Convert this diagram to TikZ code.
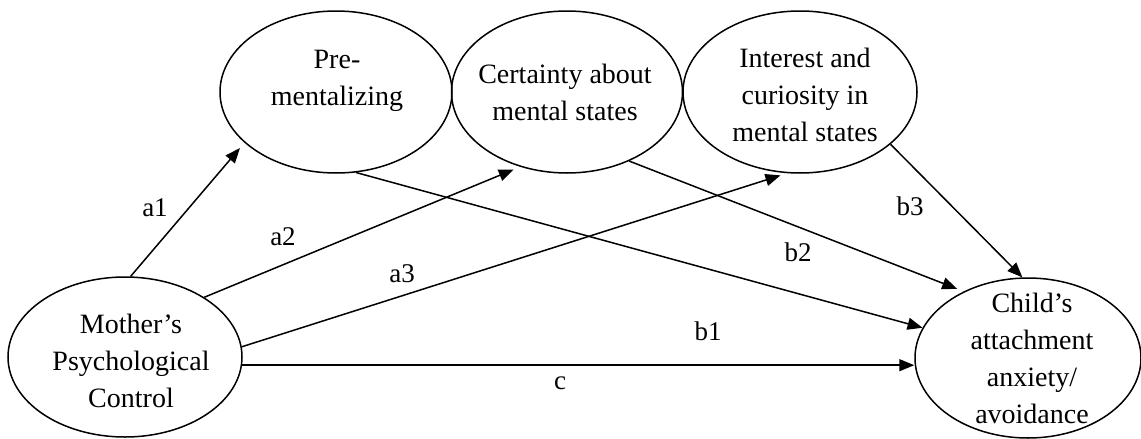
\documentclass[tikz,border=0pt]{standalone}
\usepackage{fontspec}
\setmainfont{Liberation Serif}
\usetikzlibrary{shapes.geometric,arrows.meta}
\begin{document}
\begin{tikzpicture}[x=1pt,y=-1pt,
  construct/.style={draw, ellipse, line width=1.5pt, inner sep=0pt},
  caption/.style={align=center, font=\fontsize{28}{37}\selectfont, inner sep=0pt},
  link/.style={line width=1.5pt, -{Triangle[length=15pt,width=12pt]}},
  coef/.style={font=\fontsize{27}{30}\selectfont, inner sep=0pt}]
\useasboundingbox (0,0) rectangle (1141,439);

% latent constructs
\node[construct, minimum width=232pt, minimum height=162pt] (pre) at (336,92) {};
\node[construct, minimum width=231pt, minimum height=162pt] (cert) at (567,92) {};
\node[construct, minimum width=234pt, minimum height=162pt] (inter) at (800,92) {};
\node[construct, minimum width=234pt, minimum height=160pt] (mother) at (125,357) {};
\node[construct, minimum width=226pt, minimum height=160pt] (child) at (1028,358) {};

% construct captions
\node[caption] (preT) at (337,81) {Pre-\\mentalizing};
\node[caption] (certT) at (565,92) {Certainty about\\mental states};
\node[caption] (interT) at (805,95) {Interest and\\curiosity in\\mental states};
\node[caption] (motherT) at (131,361) {Mother’s\\Psychological\\Control};
\node[caption] (childT) at (1032,358) {Child’s\\attachment\\anxiety/\\avoidance};

% a-paths
\draw[link, shorten >=7pt] (mother.86) -- (pre.209);
\draw[link, shorten >=7pt] (mother.37) -- (cert.238);
\draw[link, shorten >=7pt] (mother.5.4) -- (inter.261.8);
% b-paths
\draw[link] (pre.284.5) -- (child.164.2);
\draw[link, shorten >=7pt] (cert.312) -- (child.134.6);
\draw[link] (inter.330.8) -- (child.94.2);
% direct effect
\draw[link] (mother.-4) -- (child.west |- mother.-4);

% path coefficients
\node[coef] (la1) at (155,208) {a1};
\node[coef] (la2) at (283,237) {a2};
\node[coef] (la3) at (402,274) {a3};
\node[coef] (lb1) at (708,331) {b1};
\node[coef] (lb2) at (798,252) {b2};
\node[coef] (lb3) at (910,206) {b3};
\node[coef] (lc) at (560,383) {c};
\end{tikzpicture}
\end{document}
